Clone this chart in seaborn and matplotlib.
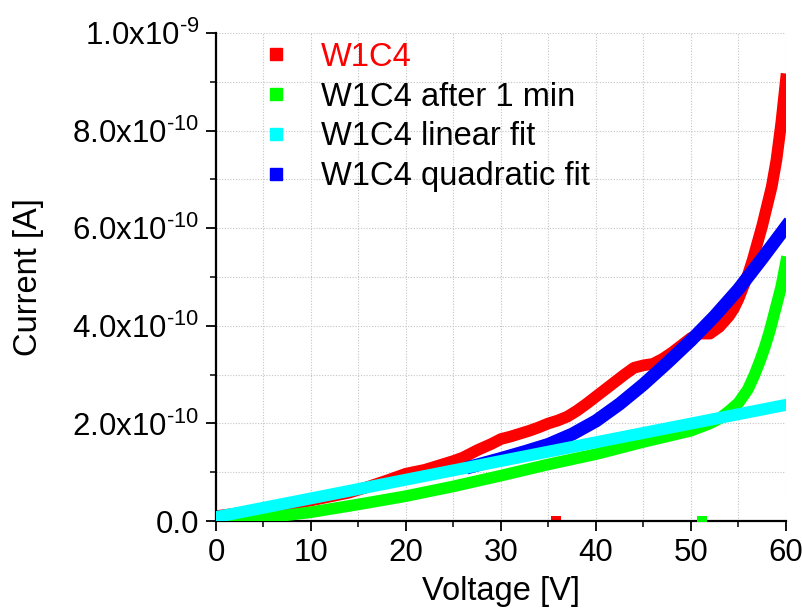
import numpy as np
import pandas as pd
import matplotlib
matplotlib.use('Agg')
import matplotlib.pyplot as plt
import seaborn as sns
from matplotlib.lines import Line2D
from matplotlib.ticker import MultipleLocator

# ---------------- data (current in units of 1e-10 A) ----------------
red_v = [0, 2, 4, 6, 8, 10, 12, 14, 16, 18, 20, 22, 24, 25, 26, 27.5, 29, 30, 31, 32,
         33, 34, 35, 36, 37, 38, 39, 40, 41, 42, 43, 44, 45, 46, 47, 48, 49, 50, 51,
         52, 53, 54, 54.5, 55, 55.5, 56, 56.5, 57, 57.5, 58, 58.5, 59, 59.5, 60]
red_i = [0.10, 0.15, 0.21, 0.28, 0.35, 0.42, 0.50, 0.58, 0.70, 0.83, 0.97, 1.05, 1.17,
         1.23, 1.30, 1.45, 1.58, 1.68, 1.73, 1.79, 1.85, 1.92, 2.00, 2.06, 2.14, 2.26,
         2.40, 2.55, 2.70, 2.85, 3.00, 3.14, 3.19, 3.22, 3.32, 3.45, 3.60, 3.75, 3.84,
         3.84, 3.98, 4.20, 4.35, 4.55, 4.80, 5.05, 5.35, 5.70, 6.05, 6.45, 6.85, 7.40,
         8.15, 9.05]

green_v = [0, 3, 5, 10, 15, 20, 25, 30, 35, 40, 45, 50, 52, 53, 54, 55, 56, 56.7,
           57.3, 57.8, 58.3, 58.7, 59.1, 59.5, 60]
green_i = [0.00, 0.02, 0.06, 0.18, 0.34, 0.51, 0.71, 0.93, 1.16, 1.37, 1.62, 1.85,
           2.00, 2.10, 2.25, 2.42, 2.70, 3.00, 3.30, 3.58, 3.90, 4.20, 4.50, 4.80, 5.30]

cyan_v = [0, 60]
cyan_i = [0.08, 2.38]

blue_v = [27, 30, 32.5, 35, 37.5, 40, 42.5, 45, 47.5, 50, 52.5, 55, 57.5, 60]
blue_i = [1.12, 1.28, 1.42, 1.57, 1.78, 2.05, 2.40, 2.80, 3.24, 3.70, 4.20, 4.75,
          5.38, 6.03]

stray_red_v, stray_red_i = [35.8], [0.0]
stray_green_v, stray_green_i = [51.2], [0.0]

labels = ['W1C4', 'W1C4 after 1 min', 'W1C4 linear fit', 'W1C4 quadratic fit']
colors = ['#ff0000', '#00ff00', '#00ffff', '#0000ff']

yticks = [0, 2e-10, 4e-10, 6e-10, 8e-10, 1e-9]
ytick_labels = ['0.0', r'$\mathregular{2.0x10^{\text{-}10}}$',
                r'$\mathregular{4.0x10^{\text{-}10}}$',
                r'$\mathregular{6.0x10^{\text{-}10}}$',
                r'$\mathregular{8.0x10^{\text{-}10}}$',
                r'$\mathregular{1.0x10^{\text{-}9}}$']
xticks = [0, 10, 20, 30, 40, 50, 60]

SCALE = 1e-10

# ---------------- style ----------------
sns.set_theme(style='white')
plt.rcParams['font.family'] = ['Liberation Sans', 'DejaVu Sans']
plt.rcParams['mathtext.fontset'] = 'custom'
plt.rcParams['mathtext.rm'] = 'Liberation Sans'
plt.rcParams['mathtext.default'] = 'regular'

fig = plt.figure(figsize=(8.02, 6.10), dpi=100)
ax = fig.add_axes([0.2693, 0.1459, 0.7107, 0.800])

def df(v, i):
    return pd.DataFrame({'V': v, 'I': np.array(i) * SCALE})

common = dict(ax=ax, x='V', y='I', legend=False, solid_capstyle='projecting',
              solid_joinstyle='round', estimator=None, sort=False)
sns.lineplot(data=df(red_v, red_i), color=colors[0], linewidth=8.4, zorder=2, **common)
sns.lineplot(data=df(green_v, green_i), color=colors[1], linewidth=8.4, zorder=3, **common)
sns.lineplot(data=df(blue_v, blue_i), color=colors[3], linewidth=9.4, zorder=4, **common)
sns.lineplot(data=df(cyan_v, cyan_i), color=colors[2], linewidth=8.6, zorder=5, **common)

sns.scatterplot(data=df(stray_red_v, stray_red_i), x='V', y='I', ax=ax, color=colors[0],
                marker='s', s=60, linewidth=0, zorder=2, legend=False)
sns.scatterplot(data=df(stray_green_v, stray_green_i), x='V', y='I', ax=ax, color=colors[1],
                marker='s', s=60, linewidth=0, zorder=3, legend=False)

ax.set_xlim(0, 60)
ax.set_ylim(0, 1e-9)
ax.set_xticks(xticks, [str(t) for t in xticks])
ax.set_yticks(yticks, ytick_labels)
ax.xaxis.set_minor_locator(MultipleLocator(5))
ax.yaxis.set_minor_locator(MultipleLocator(1e-10))

ax.set_axisbelow(True)
ax.grid(True, which='both', color='#c4c4c4', linestyle=(0, (1, 1.5)), linewidth=0.8)

for s in ['top', 'right']:
    ax.spines[s].set_visible(False)
for s in ['left', 'bottom']:
    ax.spines[s].set_color('black')
    ax.spines[s].set_linewidth(1.6)

ax.tick_params(axis='both', which='major', direction='out', length=7, width=1.3,
               colors='black', labelsize=22.5)
ax.tick_params(axis='x', which='major', pad=5)
ax.tick_params(axis='y', which='major', pad=5)
ax.tick_params(axis='both', which='minor', direction='out', length=4.5, width=1.1,
               colors='black')
ax.tick_params(left=True, bottom=True, which='both')

ax.set_xlabel('Voltage [V]', fontsize=23.5, color='black')
ax.set_ylabel('Current [A]', fontsize=23.5, color='black')
ax.xaxis.set_label_coords(0.5, -0.113)
ax.yaxis.set_label_coords(-0.302, 0.5)

handles = [Line2D([], [], marker='s', linestyle='none', color=c, markersize=8.5)
           for c in colors]
leg = ax.legend(handles, labels, loc='upper left', bbox_to_anchor=(0.076, 0.982),
                frameon=False, fontsize=23.5, handlelength=1.0, handletextpad=0.88,
                labelspacing=0.27, borderpad=0, borderaxespad=0)
for t in leg.get_texts():
    t.set_color('black')
leg.get_texts()[0].set_color('#ff0000')

fig.savefig('out.png', dpi=100)
